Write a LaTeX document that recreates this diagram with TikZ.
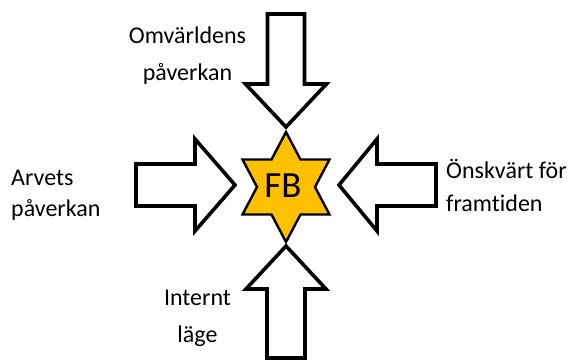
\documentclass[tikz,border=0pt]{standalone}
\usepackage{fontspec}
\setmainfont{Carlito}[Ligatures=NoCommon]
\usetikzlibrary{positioning}
\definecolor{stargold}{RGB}{255,192,0}

\begin{document}
\begin{tikzpicture}[x=1pt,y=-1pt,line join=miter,
  blockarrow/.style={draw=black,fill=white,line width=3.6pt,miter limit=10},
  starshape/.style={draw=black,fill=stargold,line width=2.4pt,miter limit=10},
  influence/.style={inner sep=0pt,font=\fontsize{24}{#1}\selectfont}]
 \useasboundingbox (0,0) rectangle (576,360);
 \coordinate (C) at (286,187);
 % star in the middle
 \begin{scope}[shift={(C)}]
  \draw[starshape] (0,-55) -- (14.5,-27.5) -- (43.5,-27.5) -- (29,0)
   -- (43.5,27.5) -- (14.5,27.5) -- (0,55) -- (-14.5,27.5)
   -- (-43.5,27.5) -- (-29,0) -- (-43.5,-27.5) -- (-14.5,-27.5) -- cycle;
 \end{scope}
 \node[inner sep=0pt,font=\fontsize{37}{37}\selectfont] (fb) at (283,186) {FB};
 % block arrows
 \draw[blockarrow] (267.5,14) -- (304.5,14) -- (304.5,84) -- (326.5,84)
  -- (286,127) -- (245.5,84) -- (267.5,84) -- cycle;
 \draw[blockarrow] (267,358) -- (305,358) -- (305,289) -- (326,289)
  -- (286,246) -- (246,289) -- (267,289) -- cycle;
 \draw[blockarrow] (136,164) -- (195,164) -- (195,139) -- (235,185)
  -- (195,231) -- (195,206) -- (136,206) -- cycle;
 \draw[blockarrow] (436,164) -- (377,164) -- (377,139) -- (339,185)
  -- (377,231) -- (377,206) -- (436,206) -- cycle;
 % labels (anchored at the baseline of the last line)
 \node[influence=37,align=center,anchor=base] (omv) at (187.5,80)
  {Omvärldens\\påverkan};
 \node[influence=31,align=left,anchor=base west] (arv) at (11,216)
  {Arvets\\påverkan};
 \node[influence=33,align=left,anchor=base west] (onsk) at (446,211)
  {Önskvärt för\\framtiden};
 \node[influence=37,align=center,anchor=base] (intl) at (197.5,342)
  {Internt\\läge};
\end{tikzpicture}
\end{document}
